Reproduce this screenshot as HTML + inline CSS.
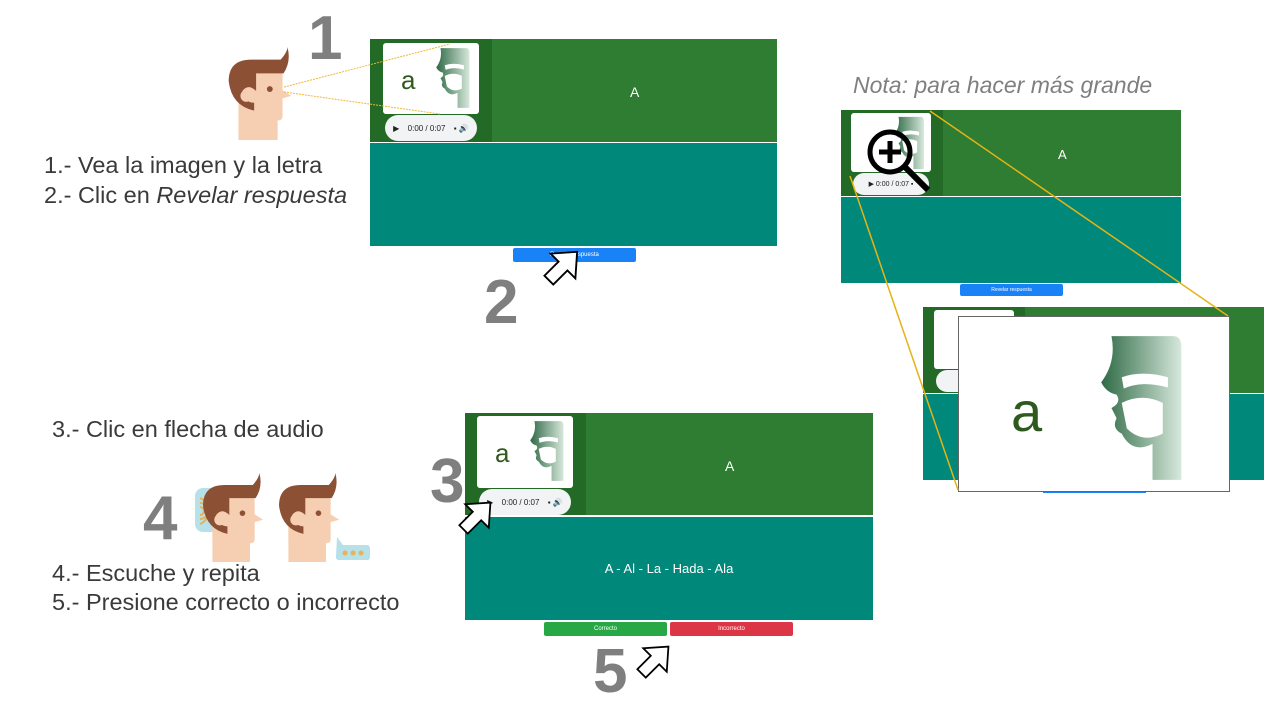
<!DOCTYPE html>
<html><head><meta charset="utf-8"><style>
body{margin:0;width:1280px;height:720px;position:relative;background:#fff;overflow:hidden;font-family:"Liberation Sans",sans-serif}
.a{position:absolute}
.t{position:absolute;color:#3a3a3a;font-size:23.5px;white-space:nowrap}
.n{position:absolute;color:#7f7f7f;font-weight:bold;font-size:62px;line-height:1}
.g{background:#2e7d32}.d{background:#236a27}.tl{background:#00897b}
.img{position:absolute;background:#fff;border-radius:3px;overflow:hidden}
.aud{position:absolute;background:#f1f3f4;border-radius:14px;font-size:8px;color:#222;display:flex;align-items:center;justify-content:space-around;padding:0 4px;box-sizing:border-box}
.btn{position:absolute;color:#fff;font-size:6px;text-align:center;border-radius:2px}
.let{position:absolute;color:#2f5a1f;font-family:"Liberation Sans",sans-serif}
</style></head><body>
<svg width="0" height="0" style="position:absolute"><defs>
<linearGradient id="gr" x1="0" x2="1"><stop offset="0" stop-color="#2e6a45"/><stop offset="1" stop-color="#d7e8dc"/></linearGradient>
<symbol id="anat" viewBox="0 0 100 150"><path fill="url(#gr)" d="M30 5 H90 Q98 5 98 15 V145 H70 V110 Q50 120 40 100 Q30 95 35 85 L30 75 Q40 70 35 62 Q25 60 20 50 Q35 30 30 5 Z M40 45 Q60 38 85 45 V55 Q60 48 42 56 Z M40 70 Q60 60 80 70 V100 Q60 110 45 95 Z" fill-rule="evenodd"/></symbol>
<symbol id="head" viewBox="0 -8 70 98"><rect x="12" y="40" width="40" height="50" fill="#f6cfb3"/><rect x="12" y="20" width="45" height="50" rx="4" fill="#f6cfb3"/><path d="M55 38 L66 45 L55 48Z" fill="#f6cfb3"/><path d="M2 30 Q2 8 25 8 L55 8 Q62 0 62 -5 Q66 10 58 22 L30 22 V40 Q22 32 16 40 Q18 52 28 52 V60 Q5 55 2 30Z" fill="#8c5035"/><circle cx="20" cy="45" r="6" fill="#f6cfb3"/><circle cx="44" cy="38" r="3" fill="#8c5035"/></symbol>
<symbol id="arr" viewBox="-16 -2 32 36"><polygon points="0,0 14,16 5,16 5,32 -5,32 -5,16 -14,16" fill="#fff" stroke="#000" stroke-width="1.5"/></symbol>
</defs></svg>

<!-- Step 1 -->
<div class="n" style="left:308px;top:8px">1</div>
<svg class="a" style="left:226px;top:44px" width="70" height="96"><use href="#head"/></svg>
<div class="t" style="left:44px;top:152px">1.- Vea la imagen y la letra</div>
<div class="t" style="left:44px;top:182px">2.- Clic en <i>Revelar respuesta</i></div>

<!-- Card 1 -->
<div class="a g" style="left:370px;top:39px;width:407px;height:103px"></div>
<div class="a d" style="left:370px;top:39px;width:122px;height:103px"></div>
<div class="img" style="left:383px;top:43px;width:96px;height:71px"><div class="let" style="left:18px;top:22px;font-size:26px">a</div><svg class="a" style="left:44px;top:3px" width="44" height="64"><use href="#anat"/></svg></div>
<div class="aud" style="left:385px;top:115px;width:92px;height:26px">▶ <span>0:00 / 0:07</span> ▪ 🔊</div>
<div class="a" style="left:630px;top:84px;color:#fff;font-size:14px">A</div>
<div class="a tl" style="left:370px;top:143px;width:407px;height:103px"></div>
<div class="btn" style="left:513px;top:248px;width:123px;height:14px;line-height:14px;background:#1a82f7">Revelar respuesta</div>
<svg class="a" style="left:0;top:0" width="1280" height="720"><line x1="284" y1="87" x2="450" y2="44" stroke="#f0b73a" stroke-dasharray="2,1"/><line x1="284" y1="92" x2="440" y2="114" stroke="#f0b73a" stroke-dasharray="2,1"/></svg>
<div class="n" style="left:484px;top:272px">2</div>
<svg class="a" style="left:543px;top:238px;transform:rotate(45deg)" width="40" height="56"><use href="#arr"/></svg>

<!-- Note -->
<div class="a" style="left:853px;top:72px;color:#7f7f7f;font-size:23px;font-style:italic">Nota: para hacer más grande</div>
<div class="a g" style="left:841px;top:110px;width:340px;height:86px"></div>
<div class="a d" style="left:841px;top:110px;width:102px;height:86px"></div>
<div class="img" style="left:851px;top:113px;width:80px;height:59px"><svg class="a" style="left:36px;top:2px" width="38" height="56"><use href="#anat"/></svg></div>
<div class="aud" style="left:853px;top:173px;width:76px;height:22px;font-size:7px">▶ 0:00 / 0:07 ▪</div>
<div class="a" style="left:1058px;top:147px;color:#fff;font-size:13px">A</div>
<div class="a tl" style="left:841px;top:197px;width:340px;height:86px"></div>
<div class="btn" style="left:960px;top:284px;width:103px;height:12px;line-height:12px;background:#1a82f7;font-size:5px">Revelar respuesta</div>
<svg class="a" style="left:864px;top:126px" width="70" height="70"><circle cx="26" cy="26" r="20" fill="none" stroke="#000" stroke-width="5"/><path d="M26 15V37M15 26H37" stroke="#000" stroke-width="5"/><line x1="40" y1="40" x2="64" y2="64" stroke="#000" stroke-width="6"/></svg>

<div class="a g" style="left:923px;top:307px;width:341px;height:86px"></div>
<div class="a d" style="left:923px;top:307px;width:102px;height:86px"></div>
<div class="img" style="left:934px;top:310px;width:80px;height:59px"></div>
<div class="aud" style="left:936px;top:370px;width:76px;height:22px"></div>
<div class="a tl" style="left:923px;top:394px;width:341px;height:86px"></div>
<div class="a" style="left:1043px;top:484px;width:103px;height:9px;background:#1a82f7"></div>
<div class="a" style="left:958px;top:316px;width:270px;height:174px;background:#fff;border:1px solid #666"><div class="let" style="left:52px;top:62px;font-size:56px">a</div><svg class="a" style="left:118px;top:14px" width="110" height="154"><use href="#anat"/></svg></div>
<svg class="a" style="left:0;top:0" width="1280" height="720"><line x1="930" y1="111" x2="1228" y2="316" stroke="#e5b316" stroke-width="1.5"/><line x1="850" y1="176" x2="958" y2="490" stroke="#e5b316" stroke-width="1.5"/></svg>

<!-- Step 3-5 -->
<div class="t" style="left:52px;top:416px">3.- Clic en flecha de audio</div>
<div class="n" style="left:143px;top:488px">4</div>
<svg class="a" style="left:190px;top:480px" width="40" height="55"><rect x="5" y="8" width="26" height="44" rx="8" fill="#b6e1e8"/><path d="M10 18a14 14 0 0 1 0 26M10 23a8 8 0 0 1 0 16M10 27a4 4 0 0 1 0 8" stroke="#e6b25a" stroke-width="2" fill="none"/></svg>
<svg class="a" style="left:200px;top:470px" width="68" height="92"><use href="#head"/></svg>
<svg class="a" style="left:276px;top:470px" width="68" height="92"><use href="#head"/></svg>
<svg class="a" style="left:333px;top:535px" width="38" height="26"><path d="M4 2 L10 10 H34 Q37 10 37 14 V22 Q37 25 34 25 H6 Q3 25 3 22Z" fill="#b6e1e8"/><circle cx="12" cy="18" r="2.5" fill="#e6b25a"/><circle cx="20" cy="18" r="2.5" fill="#e6b25a"/><circle cx="28" cy="18" r="2.5" fill="#e6b25a"/></svg>
<div class="t" style="left:52px;top:560px">4.- Escuche y repita</div>
<div class="t" style="left:52px;top:589px">5.- Presione correcto o incorrecto</div>

<div class="a g" style="left:465px;top:413px;width:408px;height:102px"></div>
<div class="a d" style="left:465px;top:413px;width:121px;height:102px"></div>
<div class="img" style="left:477px;top:416px;width:96px;height:72px"><div class="let" style="left:18px;top:22px;font-size:26px">a</div><svg class="a" style="left:44px;top:3px" width="44" height="64"><use href="#anat"/></svg></div>
<div class="aud" style="left:479px;top:489px;width:92px;height:26px">▶ <span>0:00 / 0:07</span> ▪ 🔊</div>
<div class="a" style="left:725px;top:458px;color:#fff;font-size:14px">A</div>
<div class="a tl" style="left:465px;top:517px;width:408px;height:103px"></div>
<div class="a" style="left:465px;top:561px;width:408px;text-align:center;color:#fff;font-size:13px">A - Al - La - Hada - Ala</div>
<div class="btn" style="left:544px;top:622px;width:123px;height:14px;line-height:14px;background:#28a745">Correcto</div>
<div class="btn" style="left:670px;top:622px;width:123px;height:14px;line-height:14px;background:#dc3545">Incorrecto</div>
<div class="n" style="left:430px;top:451px">3</div>
<svg class="a" style="left:458px;top:490px;transform:rotate(45deg)" width="38" height="52"><use href="#arr"/></svg>
<div class="n" style="left:593px;top:641px">5</div>
<svg class="a" style="left:636px;top:634px;transform:rotate(45deg)" width="38" height="52"><use href="#arr"/></svg>
</body></html>
